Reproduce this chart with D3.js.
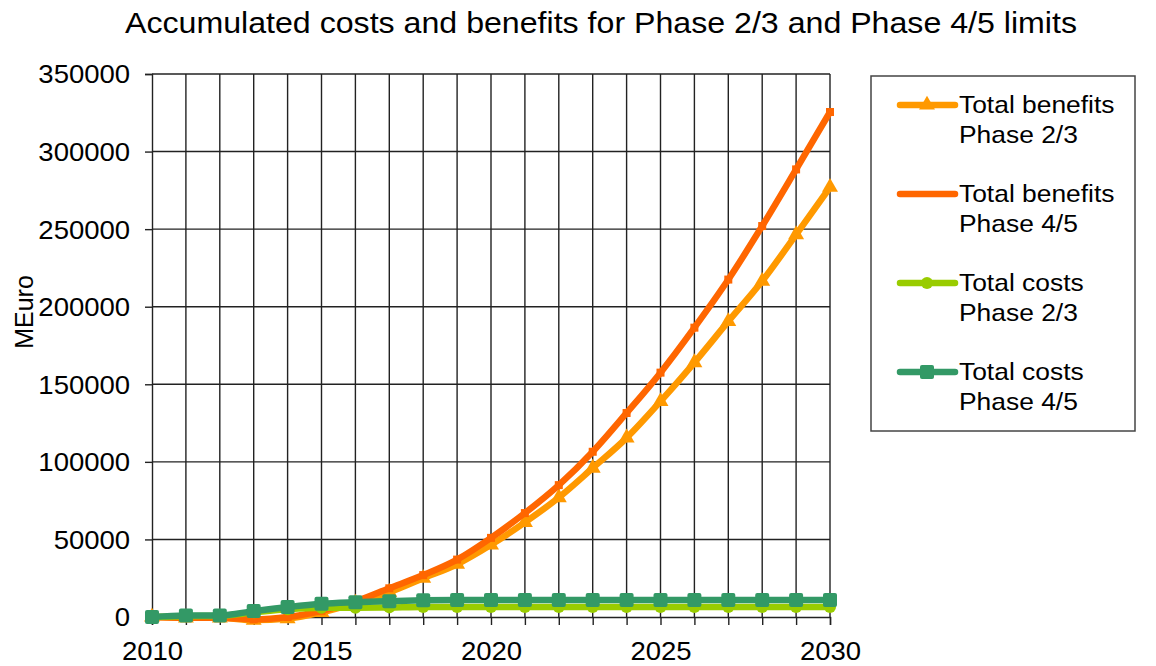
<!DOCTYPE html>
<html>
<head>
<meta charset="utf-8">
<script src="https://cdn.jsdelivr.net/npm/d3@7"></script>
<style>
  body { margin: 0; background: #fff; }
  text { font-family: "Liberation Sans", Arial, sans-serif; fill: #000; }
</style>
</head>
<body>
<div class="chart"></div>
<script>
// data
var years = d3.range(2010, 2031);
var benefits23 = [0, -500, -500, -2000, -1000, 3000, 9000, 16000, 25000, 34000, 46500,
  61000, 77000, 96000, 115500, 139000, 164000, 190500, 216500, 246500, 277000];
var benefits45 = [0, -500, -500, -1500, 0, 4000, 10000, 18500, 27000, 37000, 51000,
  67000, 85000, 106500, 131500, 157500, 186500, 217500, 252000, 288500, 325500];
var costs23 = [0, 500, 800, 3000, 5000, 6000, 6000, 6200, 6500, 6500, 6500,
  6500, 6500, 6500, 6500, 6500, 6500, 6500, 6500, 6500, 6500];
var costs45 = [0, 1000, 1000, 3800, 6400, 8500, 9500, 10200, 10800, 11000, 11000,
  11000, 11000, 11000, 11000, 11000, 11000, 11000, 11000, 11000, 11000];
var yTicks = [0, 50000, 100000, 150000, 200000, 250000, 300000, 350000];
var xTicks = [2010, 2015, 2020, 2025, 2030];

var series = [
  { name: ["Total benefits", "Phase 2/3"], values: benefits23, color: "#FF9900", marker: "triangle" },
  { name: ["Total benefits", "Phase 4/5"], values: benefits45, color: "#FF6600", marker: "smallsquare" },
  { name: ["Total costs", "Phase 2/3"], values: costs23, color: "#99CC00", marker: "circle" },
  { name: ["Total costs", "Phase 4/5"], values: costs45, color: "#339966", marker: "square" }
];

var svgWidth = 1156;
var svgHeight = 666;

var margin = { top: 74, right: 326, bottom: 49, left: 152 };
var width = svgWidth - margin.left - margin.right;
var height = svgHeight - margin.top - margin.bottom;

var svg = d3.select(".chart")
  .append("svg")
  .attr("width", svgWidth)
  .attr("height", svgHeight);

var chartGroup = svg.append("g")
  .attr("transform", `translate(${margin.left}, ${margin.top})`);

var x = d3.scaleLinear().domain([2010, 2030]).range([0, width]);
var y = d3.scaleLinear().domain([0, 350000]).range([height, 0]);

// grid lines
chartGroup.append("g")
  .selectAll("line.v")
  .data(years.slice(1))
  .enter()
  .append("line")
  .attr("x1", d => x(d)).attr("x2", d => x(d))
  .attr("y1", 0).attr("y2", height)
  .attr("stroke", "#222").attr("stroke-width", 1.4);

chartGroup.append("g")
  .selectAll("line.h")
  .data(yTicks.slice(1))
  .enter()
  .append("line")
  .attr("x1", 0).attr("x2", width)
  .attr("y1", d => y(d)).attr("y2", d => y(d))
  .attr("stroke", "#222").attr("stroke-width", 1.4);

// axes
var bottomAxis = d3.axisBottom(x)
  .tickValues(years)
  .tickSize(8)
  .tickFormat(d => xTicks.indexOf(d) >= 0 ? d : "");
var leftAxis = d3.axisLeft(y)
  .tickValues(yTicks)
  .tickSize(7)
  .tickFormat(d => d);

var xAxis = chartGroup.append("g")
  .attr("transform", `translate(0, ${height})`)
  .call(bottomAxis);
xAxis.select(".domain").attr("stroke", "#222").attr("stroke-width", 1.4);
xAxis.selectAll(".tick line").attr("stroke", "#222").attr("stroke-width", 1.4);
xAxis.selectAll(".tick text")
  .attr("dy", "0")
  .attr("y", 43)
  .attr("transform", "scale(1.08, 1)")
  .style("font-size", "25.5px")
  .style("font-family", "'Liberation Sans', Arial, sans-serif")
  .attr("fill", "#000");

var yAxis = chartGroup.append("g").call(leftAxis);
yAxis.select(".domain").attr("stroke", "#222").attr("stroke-width", 1.4);
yAxis.selectAll(".tick line").attr("stroke", "#222").attr("stroke-width", 1.4);
yAxis.selectAll(".tick text")
  .attr("x", -22)
  .attr("dy", "0.35em")
  .attr("transform", "translate(-24, 0) scale(1.08, 1) translate(24, 0)")
  .style("font-size", "25.5px")
  .style("font-family", "'Liberation Sans', Arial, sans-serif")
  .attr("fill", "#000");

// marker drawing
function drawMarker(g, type, color) {
  if (type === "triangle") {
    g.append("path").attr("d", d3.symbol().type(d3.symbolTriangle).size(110)).attr("fill", color);
  } else if (type === "square") {
    g.append("rect").attr("x", -7).attr("y", -7).attr("width", 14).attr("height", 14)
      .attr("rx", 2).attr("fill", color);
  } else if (type === "smallsquare") {
    g.append("rect").attr("x", -4).attr("y", -4).attr("width", 8).attr("height", 8).attr("fill", color);
  } else {
    g.append("circle").attr("r", 6).attr("fill", color);
  }
}

var line = d3.line()
  .x((d, i) => x(years[i]))
  .y(d => y(d))
  .curve(d3.curveMonotoneX);

series.forEach(function(s) {
  var g = chartGroup.append("g");
  g.append("path")
    .datum(s.values)
    .attr("d", line)
    .attr("fill", "none")
    .attr("stroke", s.color)
    .attr("stroke-width", 6.5)
    .attr("stroke-linejoin", "round")
    .attr("stroke-linecap", "round");
  s.values.forEach(function(v, i) {
    var m = g.append("g").attr("transform", `translate(${x(years[i])}, ${y(v)})`);
    drawMarker(m, s.marker, s.color);
  });
});

// title (reference text is slightly wide, stretch it to the same span)
svg.append("text")
  .attr("x", 125)
  .attr("y", 33)
  .attr("textLength", 952)
  .attr("lengthAdjust", "spacingAndGlyphs")
  .style("font-size", "29px")
  .text("Accumulated costs and benefits for Phase 2/3 and Phase 4/5 limits");

// y axis label
svg.append("text")
  .attr("transform", "translate(33, 312) rotate(-90)")
  .attr("text-anchor", "middle")
  .style("font-size", "25px")
  .text("MEuro");

// legend
var legend = svg.append("g");
legend.append("rect")
  .attr("x", 871).attr("y", 76)
  .attr("width", 264).attr("height", 355)
  .attr("fill", "#fff")
  .attr("stroke", "#444")
  .attr("stroke-width", 1.5);

var legendY = [105, 194, 283, 372];
series.forEach(function(s, i) {
  var ly = legendY[i];
  legend.append("line")
    .attr("x1", 900).attr("x2", 955)
    .attr("y1", ly).attr("y2", ly)
    .attr("stroke", s.color)
    .attr("stroke-width", 6.5)
    .attr("stroke-linecap", "round");
  if (s.marker !== "smallsquare") {
    var m = legend.append("g").attr("transform", `translate(927, ${ly})`);
    drawMarker(m, s.marker, s.color);
  }
  legend.append("text")
    .attr("transform", `translate(959, ${ly + 8}) scale(1.1, 1)`)
    .style("font-size", "24px")
    .text(s.name[0]);
  legend.append("text")
    .attr("transform", `translate(959, ${ly + 38}) scale(1.1, 1)`)
    .style("font-size", "24px")
    .text(s.name[1]);
});
</script>
</body>
</html>
